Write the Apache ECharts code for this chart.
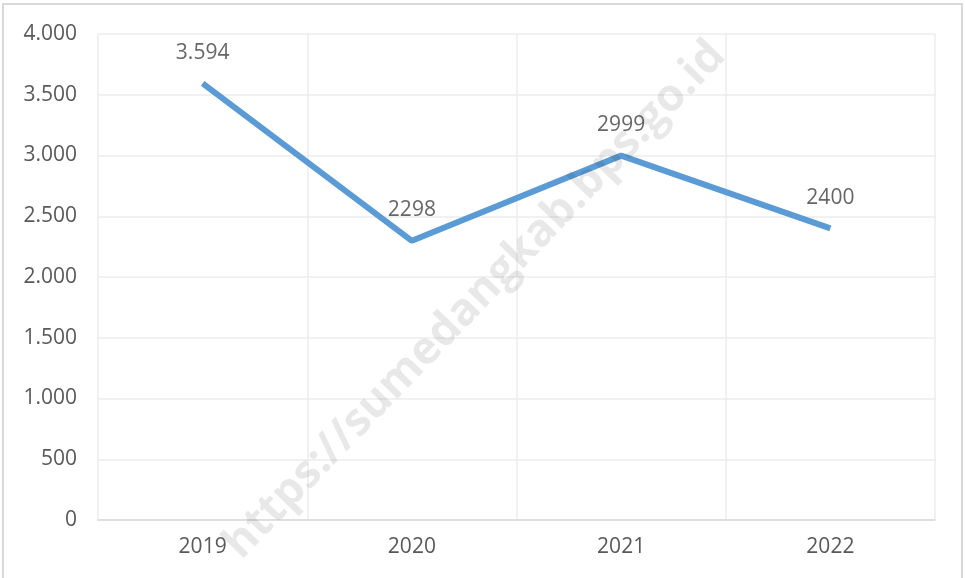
<!DOCTYPE html>
<html>
<head>
<meta charset="utf-8">
<script src="https://cdn.jsdelivr.net/npm/echarts@6/dist/echarts.min.js"></script>
<style>
html,body{margin:0;padding:0;background:#fff;}
#myChart{width:965px;height:578px;}
</style>
</head>
<body>
<div id="myChart"></div>
<script>
// data
var years = ['2019', '2020', '2021', '2022'];
var values = [3594, 2298, 2999, 2400];
var valueLabels = ['3.594', '2298', '2999', '2400'];
var watermark = 'https://sumedangkab.bps.go.id';

function dotThousands(v){
	return String(v).replace(/\B(?=(\d{3})+(?!\d))/g, '.');
}

var option = {
	animation:false,
	textStyle:{fontFamily:'Open Sans'},
	grid:{left:98, right:30, top:34, bottom:58},
	xAxis:{
		type:'category',
		data:years,
		boundaryGap:true,
		axisLine:{lineStyle:{color:'#d9d9d9', width:1.5}},
		axisTick:{show:false},
		axisLabel:{color:'#595959', fontSize:21, margin:17},
		splitLine:{show:true, lineStyle:{color:'#ececec', width:1.5}}
	},
	yAxis:{
		type:'value',
		min:0, max:4000, interval:500,
		axisLine:{show:false},
		axisTick:{show:false},
		axisLabel:{color:'#595959', fontSize:21, margin:21, formatter:dotThousands},
		splitLine:{lineStyle:{color:'#ececec', width:1.5}}
	},
	series:[{
		type:'line',
		data:values,
		symbol:'none',
		lineStyle:{color:'#5b9bd5', width:6, cap:'butt'}
	},{
		// data labels
		type:'scatter',
		data:values,
		symbol:'circle',
		symbolSize:2,
		itemStyle:{color:'rgba(91,155,213,0)'},
		label:{
			show:true, position:'top', distance:19,
			color:'#404040', fontSize:21,
			formatter:function(p){ return valueLabels[p.dataIndex]; }
		},
		z:5
	}],
	graphic:[
		{type:'rect', shape:{x:3, y:4, width:959, height:580}, style:{fill:null, stroke:'#d9d9d9', lineWidth:2}, silent:true},
		{type:'text', x:475, y:300, rotation:46*Math.PI/180, z:100,
			style:{text:watermark, fill:'rgba(0,0,0,0.09)', font:'bold 45px "Open Sans"', align:'center', verticalAlign:'middle'}, silent:true}
	]
};
echarts.init(document.getElementById('myChart')).setOption(option);
</script>
</body>
</html>
